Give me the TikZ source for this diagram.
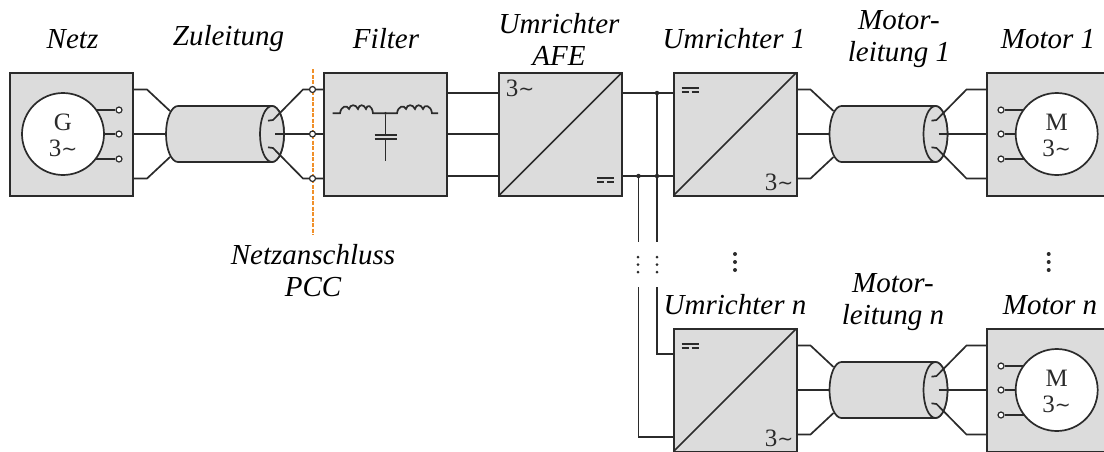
\documentclass[tikz,border=0pt]{standalone}
\usepackage{fontspec}
\setmainfont{Liberation Serif}
\newfontfamily\symfont{DejaVu Sans}
\definecolor{boxfill}{HTML}{DCDCDC}
\definecolor{ink}{HTML}{2B2B2B}
\definecolor{pcc}{HTML}{F0902A}
\newcommand{\threeac}{3{\fontsize{19}{19}\symfont\raisebox{.5pt}{∼}}}
\newcommand{\cablewires}[4]{% name, x, y, target x relative to the cable start
  \begin{scope}[shift={(#2,#3)}]
    \coordinate (#1-l1) at (-13,-44.5);
    \coordinate (#1-lb1) at (0,-44.5);
    \coordinate (#1-lc1) at (23,-23);
    \coordinate (#1-l2) at (-13,0);
    \coordinate (#1-lc2) at (19,0);
    \coordinate (#1-l3) at (-13,44.5);
    \coordinate (#1-lb3) at (0,44.5);
    \coordinate (#1-lc3) at (23,23);
    \draw[cablebody] (31,-28) arc[start angle=-90,end angle=-270,x radius=12,y radius=28]
      -- (125,28) arc[start angle=90,end angle=-90,x radius=12,y radius=28] -- cycle;
    \draw[cablebody] (125,0) ellipse[x radius=12,y radius=28];
    \coordinate (#1-r1a) at (121,-13.3);
    \coordinate (#1-r1b) at (126,-14);
    \coordinate (#1-r1c) at (156,-44.5);
    \coordinate (#1-r2a) at (128,0);
    \coordinate (#1-r3a) at (121,13.3);
    \coordinate (#1-r3b) at (126,14);
    \coordinate (#1-r3c) at (156,44.5);
    \coordinate (#1-e1) at (#4,-44.5);
    \coordinate (#1-e2) at (#4,0);
    \coordinate (#1-e3) at (#4,44.5);
    \draw[wire] (#1-l1) -- (#1-lb1) -- (#1-lc1);
    \draw[wire] (#1-l2) -- (#1-lc2);
    \draw[wire] (#1-l3) -- (#1-lb3) -- (#1-lc3);
    \draw[wire] (#1-r1a) -- (#1-r1b) -- (#1-r1c) -- (#1-e1);
    \draw[wire] (#1-r2a) -- (#1-e2);
    \draw[wire] (#1-r3a) -- (#1-r3b) -- (#1-r3c) -- (#1-e3);
  \end{scope}}
\newcommand{\dcsym}[3]{% name, x, y
  \coordinate (#1-a) at (#2,#3);
  \coordinate (#1-b) at (#2+17,#3);
  \coordinate (#1-c) at (#2,#3+4);
  \coordinate (#1-d) at (#2+7,#3+4);
  \coordinate (#1-e) at (#2+10,#3+4);
  \coordinate (#1-f) at (#2+17,#3+4);
  \draw[wire] (#1-a) -- (#1-b);
  \draw[wire] (#1-c) -- (#1-d) (#1-e) -- (#1-f);}
\newcommand{\machine}[4]{% name, cx, cy, letter
  \node[machinecircle] (#1) at (#2,#3) {};
  \node[symb] (#1-t) at (#2,#3-11.5) {#4};
  \node[symb] (#1-u) at (#2,#3+14) {\threeac};}
\tikzset{
  x=1pt,y=-1pt,
  box/.style={draw=ink,fill=boxfill,line width=2pt,minimum width=123pt,minimum height=123pt,inner sep=0pt,outer sep=0pt,anchor=north west},
  wire/.style={draw=ink,line width=1.7pt,line join=miter},
  cablebody/.style={draw=ink,fill=boxfill,line width=1.7pt},
  machinecircle/.style={circle,draw=ink,fill=white,line width=1.7pt,minimum size=82pt,inner sep=0pt,outer sep=0pt},
  term/.style={circle,draw=ink,fill=white,line width=1.2pt,minimum size=6pt,inner sep=0pt},
  junction/.style={circle,fill=ink,minimum size=4.5pt,inner sep=0pt},
  ddot/.style={circle,fill=ink,minimum size=#1,inner sep=0pt},
  lab/.style={font=\fontsize{29}{32}\selectfont\itshape,inner sep=0pt,align=center,text=black},
  symb/.style={font=\fontsize{25}{27}\selectfont,inner sep=0pt,text=ink},
}
\begin{document}
\begin{tikzpicture}
\useasboundingbox (0,0) rectangle (1104,451);
\clip (0,0) rectangle (1104,451);
% boxes
\node[box] (netz) at (10,72.5) {};
\node[box] (filter) at (324,72.5) {};
\node[box] (afe) at (499,72.5) {};
\node[box] (u1) at (673.5,72.5) {};
\node[box,minimum width=140pt] (m1) at (987,72.5) {};
\node[box] (un) at (673.5,328.5) {};
\node[box,minimum width=140pt] (mn) at (987,328.5) {};
% diagonals
\draw[wire] (afe.south west) -- (afe.north east);
\draw[wire] (u1.south west) -- (u1.north east);
\draw[wire] (un.south west) -- (un.north east);
% cables
\cablewires{ca}{147}{134}{177}
\cablewires{cb}{810.5}{134}{176.5}
\cablewires{cc}{810.5}{390}{176.5}
% machines
\foreach \n/\cx/\cy/\tx in {g/63/134/119,mo/1056.7/134/1001,mu/1056.7/390/1001}{
  \foreach \i/\d in {1/-24,2/0,3/25}{
    \node[term] (\n t\i) at (\tx,\cy+\d) {};
    \coordinate (\n c\i) at (\cx,\cy+\d);
    \draw[wire] (\n t\i) -- (\n c\i);
  }
}
\machine{gen}{63}{134}{G}
\machine{mot}{1056.7}{134}{M}
\machine{mun}{1056.7}{390}{M}
% filter to AFE
\foreach \i/\y in {1/93,2/134,3/176}{
  \coordinate (fo\i) at (447,\y);
  \coordinate (ai\i) at (499,\y);
  \draw[wire] (fo\i) -- (ai\i);
}
% DC link
\coordinate (d1) at (622,93);
\coordinate (d1e) at (673.5,93);
\coordinate (d2) at (622,176);
\coordinate (d2e) at (673.5,176);
\draw[wire] (d1) -- (d1e);
\draw[wire] (d2) -- (d2e);
\node[junction] (j1) at (657,93) {};
\node[junction] (j2) at (657,176) {};
\node[junction] (j3) at (638.5,176) {};
\coordinate (v1e) at (657,242);
\coordinate (v2e) at (638.5,242);
\draw[wire] (j1) -- (v1e);
\draw[wire] (j3) -- (v2e);
\coordinate (v1s) at (657,287);
\coordinate (v1b) at (657,354);
\coordinate (v1t) at (673.5,354);
\coordinate (v2s) at (638.5,287);
\coordinate (v2b) at (638.5,437);
\coordinate (v2t) at (673.5,437);
\draw[wire] (v1s) -- (v1b) -- (v1t);
\draw[wire] (v2s) -- (v2b) -- (v2t);
% dots
\foreach \x in {638,657}\foreach \y in {257,264.5,272}{\node[ddot=3pt] at (\x,\y) {};}
\foreach \x in {735,1048.7}\foreach \y in {254,262,270}{\node[ddot=4pt] at (\x,\y) {};}
% filter symbol
\coordinate (f1) at (332.7,113.3);
\coordinate (f2) at (340,113.3);
\coordinate (f4) at (397,113.3);
\coordinate (f6) at (438,113.3);
\draw[wire] (f1) -- (f2) .. controls (341,106) and (347,104.5) .. (349,109) .. controls (350,104) and (356,104) .. (358,109)
  .. controls (359,104) and (364,104) .. (366,109) .. controls (367,104) and (372,105) .. (373,113.3) -- (f4)
  .. controls (398,106) and (404,104.5) .. (406,109) .. controls (407,104) and (413,104) .. (415,109)
  .. controls (416,104) and (421,104) .. (423,109) .. controls (424,104) and (431,105) .. (432,113.3) -- (f6);
\node[junction,minimum size=3pt] (fj) at (385.5,113.3) {};
\coordinate (k1) at (385.5,135);
\coordinate (k2) at (385.5,139.3);
\coordinate (k3) at (385.5,161);
\coordinate (kl1) at (374.5,135);\coordinate (kr1) at (397,135);
\coordinate (kl2) at (374.5,139.3);\coordinate (kr2) at (397,139.3);
\draw[wire] (fj) -- (k1);
\draw[wire] (k2) -- (k3);
\draw[wire] (kl1) -- (kr1);
\draw[wire] (kl2) -- (kr2);
% converter symbols
\node[symb] (afeac) at (520,88) {\threeac};
\dcsym{dca}{597}{178}
\dcsym{dcb}{681.5}{88}
\node[symb] (u1ac) at (779,182) {\threeac};
\dcsym{dcc}{681.5}{344}
\node[symb] (unac) at (779,438) {\threeac};
% PCC
\coordinate (pt) at (312.5,69);
\coordinate (pb) at (312.5,235);
\draw[pcc,line width=2pt,dash pattern=on 4pt off 1.5pt] (pt) -- (pb);
\foreach \i/\y in {1/89.5,2/134,3/178.5}{\node[term] (p\i) at (312.5,\y) {};}
% labels
\node[lab] (tnetz) at (72.5,39) {Netz};
\node[lab] (tzul) at (228.5,39) {Zuleitung};
\node[lab] (tfil) at (386,39) {Filter};
\node[lab] (tafe) at (559,39) {Umrichter\\AFE};
\node[lab] (tu1) at (734,39) {Umrichter 1};
\node[lab] (tml1) at (899,39) {Motor-\\leitung 1};
\node[lab] (tm1) at (1048,39) {Motor 1};
\node[lab] (tpcc) at (313,271) {Netzanschluss\\PCC};
\node[lab] (tun) at (735,305) {Umrichter n};
\node[lab] (tmln) at (893,302) {Motor-\\leitung n};
\node[lab] (tmn) at (1050,305) {Motor n};
\end{tikzpicture}
\end{document}
